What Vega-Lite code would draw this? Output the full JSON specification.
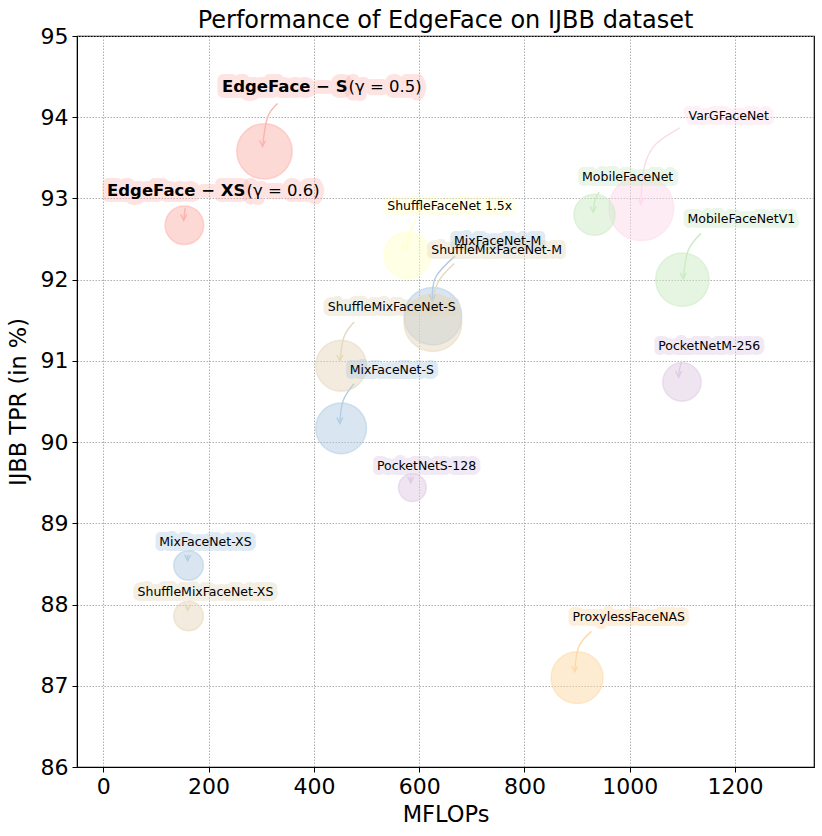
{
  "$schema": "https://vega.github.io/schema/vega-lite/v6.json",
  "width": 737,
  "height": 731,
  "autosize": {"type": "none"},
  "padding": {"left": 77, "top": 36, "right": 8, "bottom": 69},
  "title": {"text": "Performance of EdgeFace on IJBB dataset", "font": "DejaVu Sans", "fontSize": 24, "fontWeight": "normal", "color": "black", "offset": -8},
  "config": {
    "view": {"stroke": "black", "strokeWidth": 1.2},
    "axis": {
      "labelFont": "DejaVu Sans", "labelFontSize": 22, "labelColor": "black",
      "titleFont": "DejaVu Sans", "titleFontSize": 22.5, "titleFontWeight": "normal", "titleColor": "black",
      "domainColor": "black", "tickColor": "black", "tickSize": 5, "tickWidth": 1,
      "gridColor": "#9a9a9a", "gridDash": [1.5, 1.5], "gridWidth": 0.8, "labelPadding": 4
    }
  },
  "datasets": {
    "pts": [
      {"name": "EdgeFace-S", "family": "EdgeFace", "mflops": 306.11, "tpr": 93.58, "params": 3.65, "lx": 464, "ly": 94.37, "bold": "EdgeFace − S", "rest": "(γ = 0.5)"},
      {"name": "EdgeFace-XS", "family": "EdgeFace", "mflops": 154.0, "tpr": 92.67, "params": 1.77, "lx": 270, "ly": 93.09, "bold": "EdgeFace − XS", "rest": "(γ = 0.6)"},
      {"name": "VarGFaceNet", "family": "VarGFaceNet", "mflops": 1022, "tpr": 92.88, "params": 5.0, "lx": 1188, "ly": 94.02},
      {"name": "MobileFaceNet", "family": "MobileFaceNet", "mflops": 933, "tpr": 92.8, "params": 2.0, "lx": 996, "ly": 93.27},
      {"name": "MobileFaceNetV1", "family": "MobileFaceNet", "mflops": 1100, "tpr": 92.0, "params": 3.4, "lx": 1212, "ly": 92.75},
      {"name": "ShuffleFaceNet 1.5x", "family": "ShuffleFaceNet", "mflops": 577.5, "tpr": 92.3, "params": 2.6, "lx": 658, "ly": 92.91},
      {"name": "MixFaceNet-M", "family": "MixFaceNet", "mflops": 626.1, "tpr": 91.55, "params": 3.95, "lx": 749, "ly": 92.47},
      {"name": "ShuffleMixFaceNet-M", "family": "ShuffleMixFaceNet", "mflops": 626.1, "tpr": 91.47, "params": 3.95, "lx": 747, "ly": 92.36},
      {"name": "ShuffleMixFaceNet-S", "family": "ShuffleMixFaceNet", "mflops": 451.7, "tpr": 90.94, "params": 3.07, "lx": 548, "ly": 91.66},
      {"name": "MixFaceNet-S", "family": "MixFaceNet", "mflops": 451.7, "tpr": 90.17, "params": 3.07, "lx": 548, "ly": 90.89},
      {"name": "PocketNetM-256", "family": "PocketNet", "mflops": 1099.1, "tpr": 90.74, "params": 1.75, "lx": 1151, "ly": 91.18},
      {"name": "PocketNetS-128", "family": "PocketNet", "mflops": 587.1, "tpr": 89.44, "params": 0.92, "lx": 614, "ly": 89.7},
      {"name": "MixFaceNet-XS", "family": "MixFaceNet", "mflops": 161.9, "tpr": 88.48, "params": 1.04, "lx": 194, "ly": 88.77},
      {"name": "ShuffleMixFaceNet-XS", "family": "ShuffleMixFaceNet", "mflops": 161.9, "tpr": 87.86, "params": 1.04, "lx": 194, "ly": 88.16},
      {"name": "ProxylessFaceNAS", "family": "ProxylessFaceNAS", "mflops": 900, "tpr": 87.1, "params": 3.2, "lx": 998, "ly": 87.85}
    ],
    "arrows": [
      {"name": "EdgeFace-S", "family": "EdgeFace", "seq": 1, "ax": 331, "ay": 94.17},
      {"name": "EdgeFace-S", "family": "EdgeFace", "seq": 2, "ax": 312, "ay": 94.0},
      {"name": "EdgeFace-S", "family": "EdgeFace", "seq": 3, "ax": 302.5, "ay": 93.64, "tip": true},
      {"name": "EdgeFace-XS", "family": "EdgeFace", "seq": 1, "ax": 155.3, "ay": 92.88},
      {"name": "EdgeFace-XS", "family": "EdgeFace", "seq": 2, "ax": 152.7, "ay": 92.73, "tip": true},
      {"name": "ShuffleFaceNet 1.5x", "family": "ShuffleFaceNet", "seq": 1, "ax": 593.6, "ay": 92.74},
      {"name": "ShuffleFaceNet 1.5x", "family": "ShuffleFaceNet", "seq": 2, "ax": 583, "ay": 92.59},
      {"name": "ShuffleFaceNet 1.5x", "family": "ShuffleFaceNet", "seq": 3, "ax": 574.4, "ay": 92.37, "tip": true},
      {"name": "MixFaceNet-M", "family": "MixFaceNet", "seq": 1, "ax": 668, "ay": 92.29},
      {"name": "MixFaceNet-M", "family": "MixFaceNet", "seq": 2, "ax": 631.3, "ay": 92.03},
      {"name": "MixFaceNet-M", "family": "MixFaceNet", "seq": 3, "ax": 625, "ay": 91.74, "tip": true},
      {"name": "ShuffleMixFaceNet-M", "family": "ShuffleMixFaceNet", "seq": 1, "ax": 666.6, "ay": 92.2},
      {"name": "ShuffleMixFaceNet-M", "family": "ShuffleMixFaceNet", "seq": 2, "ax": 634.4, "ay": 91.95},
      {"name": "ShuffleMixFaceNet-M", "family": "ShuffleMixFaceNet", "seq": 3, "ax": 623.7, "ay": 91.58, "tip": true},
      {"name": "ShuffleMixFaceNet-S", "family": "ShuffleMixFaceNet", "seq": 1, "ax": 476.4, "ay": 91.48},
      {"name": "ShuffleMixFaceNet-S", "family": "ShuffleMixFaceNet", "seq": 2, "ax": 457.4, "ay": 91.3},
      {"name": "ShuffleMixFaceNet-S", "family": "ShuffleMixFaceNet", "seq": 3, "ax": 449.3, "ay": 91.0, "tip": true},
      {"name": "MixFaceNet-S", "family": "MixFaceNet", "seq": 1, "ax": 476.4, "ay": 90.72},
      {"name": "MixFaceNet-S", "family": "MixFaceNet", "seq": 2, "ax": 455.5, "ay": 90.51},
      {"name": "MixFaceNet-S", "family": "MixFaceNet", "seq": 3, "ax": 449.3, "ay": 90.23, "tip": true},
      {"name": "PocketNetS-128", "family": "PocketNet", "seq": 1, "ax": 584, "ay": 89.58},
      {"name": "PocketNetS-128", "family": "PocketNet", "seq": 2, "ax": 583.9, "ay": 89.5, "tip": true},
      {"name": "PocketNetM-256", "family": "PocketNet", "seq": 1, "ax": 1099, "ay": 91.0},
      {"name": "PocketNetM-256", "family": "PocketNet", "seq": 2, "ax": 1094.6, "ay": 90.9},
      {"name": "PocketNetM-256", "family": "PocketNet", "seq": 3, "ax": 1092.8, "ay": 90.8, "tip": true},
      {"name": "MixFaceNet-XS", "family": "MixFaceNet", "seq": 1, "ax": 160.2, "ay": 88.61},
      {"name": "MixFaceNet-XS", "family": "MixFaceNet", "seq": 2, "ax": 160.2, "ay": 88.54, "tip": true},
      {"name": "ShuffleMixFaceNet-XS", "family": "ShuffleMixFaceNet", "seq": 1, "ax": 160.2, "ay": 87.97},
      {"name": "ShuffleMixFaceNet-XS", "family": "ShuffleMixFaceNet", "seq": 2, "ax": 160.2, "ay": 87.93, "tip": true},
      {"name": "ProxylessFaceNAS", "family": "ProxylessFaceNAS", "seq": 1, "ax": 927.2, "ay": 87.67},
      {"name": "ProxylessFaceNAS", "family": "ProxylessFaceNAS", "seq": 2, "ax": 903.1, "ay": 87.48},
      {"name": "ProxylessFaceNAS", "family": "ProxylessFaceNAS", "seq": 3, "ax": 895.5, "ay": 87.17, "tip": true},
      {"name": "VarGFaceNet", "family": "VarGFaceNet", "seq": 1, "ax": 1095, "ay": 93.87},
      {"name": "VarGFaceNet", "family": "VarGFaceNet", "seq": 2, "ax": 1049.7, "ay": 93.67},
      {"name": "VarGFaceNet", "family": "VarGFaceNet", "seq": 3, "ax": 1027.1, "ay": 93.37},
      {"name": "VarGFaceNet", "family": "VarGFaceNet", "seq": 4, "ax": 1020.7, "ay": 92.93, "tip": true},
      {"name": "MobileFaceNet", "family": "MobileFaceNet", "seq": 1, "ax": 942, "ay": 93.08},
      {"name": "MobileFaceNet", "family": "MobileFaceNet", "seq": 2, "ax": 933.6, "ay": 92.97},
      {"name": "MobileFaceNet", "family": "MobileFaceNet", "seq": 3, "ax": 930.4, "ay": 92.83, "tip": true},
      {"name": "MobileFaceNetV1", "family": "MobileFaceNet", "seq": 1, "ax": 1135.6, "ay": 92.57},
      {"name": "MobileFaceNetV1", "family": "MobileFaceNet", "seq": 2, "ax": 1111, "ay": 92.36},
      {"name": "MobileFaceNetV1", "family": "MobileFaceNet", "seq": 3, "ax": 1101.5, "ay": 92.01, "tip": true}
    ]
  },
  "layer": [
    {
      "data": {"name": "pts"},
      "mark": {"type": "point", "shape": "circle", "filled": true, "fillOpacity": 0.5, "strokeOpacity": 0.55, "strokeWidth": 1.5},
      "encoding": {
        "x": {"field": "mflops", "type": "quantitative", "scale": {"domain": [-50, 1350], "nice": false, "zero": false}, "axis": {"title": "MFLOPs", "format": "d", "values": [0, 200, 400, 600, 800, 1000, 1200], "grid": true, "titlePadding": 6}},
        "y": {"field": "tpr", "type": "quantitative", "scale": {"domain": [86, 95], "nice": false, "zero": false}, "axis": {"title": "IJBB TPR (in %)", "format": "d", "values": [86, 87, 88, 89, 90, 91, 92, 93, 94, 95], "grid": true, "titlePadding": 10}},
        "size": {"field": "params", "type": "quantitative", "scale": {"domain": [0, 5], "range": [0, 4200], "zero": true}, "legend": null},
        "color": {"field": "family", "type": "nominal", "scale": {"domain": ["EdgeFace", "MixFaceNet", "MobileFaceNet", "PocketNet", "ProxylessFaceNAS", "ShuffleFaceNet", "ShuffleMixFaceNet", "VarGFaceNet"], "range": ["#fbb4ae", "#b3cde3", "#ccebc5", "#decbe4", "#fed9a6", "#ffffcc", "#e5d8bd", "#fddaec"]}, "legend": null},
        "stroke": {"field": "family", "type": "nominal", "scale": {"domain": ["EdgeFace", "MixFaceNet", "MobileFaceNet", "PocketNet", "ProxylessFaceNAS", "ShuffleFaceNet", "ShuffleMixFaceNet", "VarGFaceNet"], "range": ["#fbb4ae", "#b3cde3", "#ccebc5", "#decbe4", "#fed9a6", "#ffffcc", "#e5d8bd", "#fddaec"]}, "legend": null}
      }
    },
    {
      "data": {"name": "arrows"},
      "mark": {"type": "line", "interpolate": "natural", "strokeWidth": 1.4},
      "encoding": {
        "x": {"field": "ax", "type": "quantitative"},
        "y": {"field": "ay", "type": "quantitative"},
        "detail": {"field": "name"},
        "order": {"field": "seq"},
        "stroke": {"field": "family", "type": "nominal", "legend": null}
      }
    },
    {
      "data": {"name": "arrows"},
      "transform": [{"filter": "datum.tip"}],
      "mark": {"type": "point", "shape": "M-1,-2L0,0L1,-2", "filled": false, "size": 36, "strokeWidth": 1.4, "opacity": 1},
      "encoding": {
        "x": {"field": "ax", "type": "quantitative"},
        "y": {"field": "ay", "type": "quantitative"},
        "stroke": {"field": "family", "type": "nominal", "legend": null}
      }
    },
    {
      "data": {"name": "pts"},
      "transform": [{"filter": "datum.family != 'EdgeFace'"}],
      "mark": {"type": "text", "font": "DejaVu Sans", "fontSize": 12.5, "baseline": "middle", "align": "center", "fillOpacity": 0, "strokeWidth": 10, "strokeJoin": "round", "opacity": 0.4},
      "encoding": {
        "x": {"field": "lx", "type": "quantitative"},
        "y": {"field": "ly", "type": "quantitative"},
        "text": {"field": "name"},
        "stroke": {"field": "family", "type": "nominal", "legend": null}
      }
    },
    {
      "data": {"name": "pts"},
      "transform": [{"filter": "datum.family != 'EdgeFace'"}],
      "mark": {"type": "text", "font": "DejaVu Sans", "fontSize": 12.5, "baseline": "middle", "align": "center", "color": "black"},
      "encoding": {
        "x": {"field": "lx", "type": "quantitative"},
        "y": {"field": "ly", "type": "quantitative"},
        "text": {"field": "name"}
      }
    },
    {
      "data": {"name": "pts"},
      "transform": [{"filter": "datum.family == 'EdgeFace'"}],
      "mark": {"type": "text", "font": "DejaVu Sans", "fontSize": 16.5, "fontWeight": "bold", "baseline": "middle", "align": "right", "fillOpacity": 0, "stroke": "#fbb4ae", "strokeWidth": 12, "strokeJoin": "round", "opacity": 0.35},
      "encoding": {
        "x": {"field": "lx", "type": "quantitative"},
        "y": {"field": "ly", "type": "quantitative"},
        "text": {"field": "bold"}
      }
    },
    {
      "data": {"name": "pts"},
      "transform": [{"filter": "datum.family == 'EdgeFace'"}],
      "mark": {"type": "text", "font": "DejaVu Sans", "fontSize": 16.5, "baseline": "middle", "align": "left", "dx": 1, "fillOpacity": 0, "stroke": "#fbb4ae", "strokeWidth": 12, "strokeJoin": "round", "opacity": 0.35},
      "encoding": {
        "x": {"field": "lx", "type": "quantitative"},
        "y": {"field": "ly", "type": "quantitative"},
        "text": {"field": "rest"}
      }
    },
    {
      "data": {"name": "pts"},
      "transform": [{"filter": "datum.family == 'EdgeFace'"}],
      "mark": {"type": "text", "font": "DejaVu Sans", "fontSize": 16.5, "fontWeight": "bold", "baseline": "middle", "align": "right", "color": "black"},
      "encoding": {
        "x": {"field": "lx", "type": "quantitative"},
        "y": {"field": "ly", "type": "quantitative"},
        "text": {"field": "bold"}
      }
    },
    {
      "data": {"name": "pts"},
      "transform": [{"filter": "datum.family == 'EdgeFace'"}],
      "mark": {"type": "text", "font": "DejaVu Sans", "fontSize": 16.5, "baseline": "middle", "align": "left", "dx": 1, "color": "black"},
      "encoding": {
        "x": {"field": "lx", "type": "quantitative"},
        "y": {"field": "ly", "type": "quantitative"},
        "text": {"field": "rest"}
      }
    }
  ]
}
